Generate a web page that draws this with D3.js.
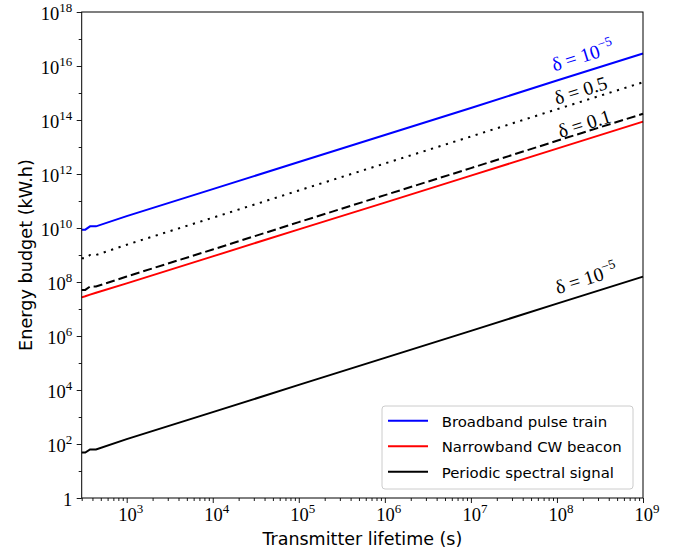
<!DOCTYPE html>
<html>
<head>
<meta charset="utf-8">
<script src="https://cdn.jsdelivr.net/npm/d3@7/dist/d3.min.js"></script>
<style>
  body { margin: 0; background: #fff; }
  svg { display: block; }
</style>
</head>
<body>
<svg id="chart" width="680" height="559"></svg>
<script>
// values (lifetime in s, energy in kW.h)
const lifetimes = [300, 330, 375, 440, 1e3, 1e4, 1e5, 1e6, 1e7, 1e8, 1e9]
const broadband = [8.7e9, 8.7e9, 1.15e10, 1.15e10, 2.75e10, 2.75e11, 2.8e12, 2.8e13, 2.8e14, 2.9e15, 2.9e16]
const narrowband = [2.7e7, 2.95e7, 3.4e7, 4.0e7, 8.9e7, 8.9e8, 8.9e9, 8.7e10, 8.7e11, 8.7e12, 8.7e13]
const periodicHalf = [7.6e8, 7.6e8, 1.0e9, 1.0e9, 2.4e9, 2.4e10, 2.45e11, 2.45e12, 2.45e13, 2.5e14, 2.5e15]
const periodicTenth = [5.1e7, 5.1e7, 6.8e7, 6.8e7, 1.6e8, 1.6e9, 1.65e10, 1.65e11, 1.65e12, 1.7e13, 1.7e14]
const periodicLow = [48, 48, 63, 63, 151, 1.51e3, 1.55e4, 1.55e5, 1.55e6, 1.58e7, 1.58e8]

const xMajor = [1e3, 1e4, 1e5, 1e6, 1e7, 1e8, 1e9]
const yMajor = [1, 1e2, 1e4, 1e6, 1e8, 1e10, 1e12, 1e14, 1e16, 1e18]
const yMinor = [1e1, 1e3, 1e5, 1e7, 1e9, 1e11, 1e13, 1e15, 1e17]

const series = [
  { values: periodicHalf, color: '#000', dash: '2.2,5.6' },
  { values: periodicTenth, color: '#000', dash: '9,4' },
  { values: narrowband, color: '#ff0000', dash: null },
  { values: periodicLow, color: '#000', dash: null },
  { values: broadband, color: '#0000ff', dash: null }
]

const legendItems = [
  { label: 'Broadband pulse train', color: '#0000ff' },
  { label: 'Narrowband CW beacon', color: '#ff0000' },
  { label: 'Periodic spectral signal', color: '#000' }
]

// delta annotations: [lifetime, energy] anchor of the label centre
const deltaLabels = [
  { at: [2.0e8, 2.3e16], tail: '10', sup: '\u22125', color: '#0000ff' },
  { at: [1.9e8, 1.2e15], tail: '0.5', sup: null, color: '#000' },
  { at: [2.1e8, 7.0e13], tail: '0.1', sup: null, color: '#000' },
  { at: [2.2e8, 1.3e8], tail: '10', sup: '\u22125', color: '#000' }
]

const serif = "'Liberation Serif', 'DejaVu Serif', serif"
const sans = "'DejaVu Sans', 'Noto Sans', sans-serif"

const plotLeft = 81.7
const plotRight = 643
const plotTop = 12
const plotBottom = 498

let svg = d3.select('#chart')

let x = d3.scaleLog().domain([300, 1e9]).range([plotLeft, plotRight])
let y = d3.scaleLog().domain([1, 1e18]).range([plotBottom, plotTop])

// minor ticks on x
let xMinor = []
for (let k = 2; k < 9; k++) {
  for (let m = 2; m < 10; m++) {
    let v = m * Math.pow(10, k)
    if (v >= 300 && v <= 1e9) xMinor.push(v)
  }
}

svg.append('g')
  .attr('transform', 'translate(0,' + plotBottom + ')')
  .call(d3.axisBottom(x).tickValues(xMinor).tickSize(3).tickSizeOuter(0).tickFormat(''))
let xAxis = svg.append('g')
  .attr('transform', 'translate(0,' + plotBottom + ')')
  .call(d3.axisBottom(x).tickValues(xMajor).tickSize(5).tickSizeOuter(0).tickFormat(''))
svg.append('g')
  .attr('transform', 'translate(' + plotLeft + ',0)')
  .call(d3.axisLeft(y).tickValues(yMinor).tickSize(3).tickSizeOuter(0).tickFormat(''))
let yAxis = svg.append('g')
  .attr('transform', 'translate(' + plotLeft + ',0)')
  .call(d3.axisLeft(y).tickValues(yMajor).tickSize(5).tickSizeOuter(0).tickFormat(''))

svg.selectAll('.domain').remove()
svg.selectAll('.tick text').remove()
svg.selectAll('.tick line').attr('stroke', '#000').attr('stroke-width', 0.9)

function powerLabel (sel, d) {
  let e = Math.round(Math.log10(d))
  if (e === 0) {
    sel.append('tspan').text('1')
    return
  }
  sel.append('tspan').text('10')
  sel.append('tspan').attr('dy', -8).attr('font-size', 13).text(e)
}

xAxis.selectAll('.tick').each(function (d) {
  let t = d3.select(this).append('text')
    .attr('y', 23)
    .attr('x', 3.5)
    .attr('fill', '#000')
    .attr('font-family', serif)
    .attr('font-size', 18.5)
    .attr('text-anchor', 'middle')
  powerLabel(t, d)
})

yAxis.selectAll('.tick').each(function (d) {
  let t = d3.select(this).append('text')
    .attr('x', -9.5)
    .attr('y', 7.5)
    .attr('fill', '#000')
    .attr('font-family', serif)
    .attr('font-size', 18.5)
    .attr('text-anchor', 'end')
  powerLabel(t, d)
})

// data lines
let line = d3.line()
  .x(function (d) { return x(d[0]) })
  .y(function (d) { return y(d[1]) })

svg.append('g').selectAll('path.series')
  .data(series)
  .enter().append('path')
  .attr('class', 'series')
  .attr('fill', 'none')
  .attr('stroke', function (d) { return d.color })
  .attr('stroke-width', 2)
  .attr('stroke-dasharray', function (d) { return d.dash })
  .attr('d', function (d) {
    return line(lifetimes.map(function (t, i) { return [t, d.values[i]] }))
  })

// frame
svg.append('rect')
  .attr('x', plotLeft).attr('y', plotTop)
  .attr('width', plotRight - plotLeft).attr('height', plotBottom - plotTop)
  .attr('fill', 'none').attr('stroke', '#000').attr('stroke-width', 1)

// rotated delta labels, following the slope of the lines
let angle = Math.atan2(y(1e9) - y(1e8), x(1e9) - x(1e8)) * 180 / Math.PI
deltaLabels.forEach(function (l) {
  let px = x(l.at[0])
  let py = y(l.at[1])
  let t = svg.append('text')
    .attr('transform', 'translate(' + px + ',' + py + ') rotate(' + angle + ')')
    .attr('text-anchor', 'middle')
    .attr('y', 6)
    .attr('fill', l.color)
    .attr('font-family', serif)
    .attr('font-size', 19.5)
  t.append('tspan').text('\u03b4 = ' + l.tail)
  if (l.sup) {
    t.append('tspan').attr('dy', -8).attr('font-size', 13.5).text(l.sup)
  }
})

function fitWidth (sel, target) {
  let len = sel.node().getComputedTextLength()
  let fs = parseFloat(sel.attr('font-size'))
  sel.attr('font-size', fs * target / len)
  return fs * target / len
}

// axis titles
let xTitle = svg.append('text')
  .attr('x', (plotLeft + plotRight) / 2)
  .attr('y', 545)
  .attr('text-anchor', 'middle')
  .attr('font-family', sans)
  .attr('font-size', 18)
  .text('Transmitter lifetime (s)')
fitWidth(xTitle, 200)

let yTitle = svg.append('text')
  .attr('transform', 'translate(32,' + (plotTop + plotBottom) / 2 + ') rotate(-90)')
  .attr('text-anchor', 'middle')
  .attr('font-family', sans)
  .attr('font-size', 18)
  .text('Energy budget (kW.h)')
fitWidth(yTitle, 192)

// legend
let legend = svg.append('g')
legend.append('rect')
  .attr('x', 382).attr('y', 406)
  .attr('width', 251).attr('height', 83)
  .attr('rx', 3)
  .attr('fill', '#fff').attr('fill-opacity', 0.8)
  .attr('stroke', '#cccccc').attr('stroke-width', 1)

let rows = legend.selectAll('g.item')
  .data(legendItems)
  .enter().append('g')
  .attr('class', 'item')
  .attr('transform', function (d, i) { return 'translate(0,' + (420.7 + i * 25.5) + ')' })
rows.append('line')
  .attr('x1', 388).attr('x2', 428)
  .attr('stroke', function (d) { return d.color })
  .attr('stroke-width', 2)
let labels = rows.append('text')
  .attr('x', 441.7)
  .attr('y', 6)
  .attr('font-family', sans)
  .attr('font-size', 15)
  .text(function (d) { return d.label })
let fs = fitWidth(d3.select(labels.nodes()[0]), 165.6)
labels.attr('font-size', fs)
</script>
</body>
</html>
